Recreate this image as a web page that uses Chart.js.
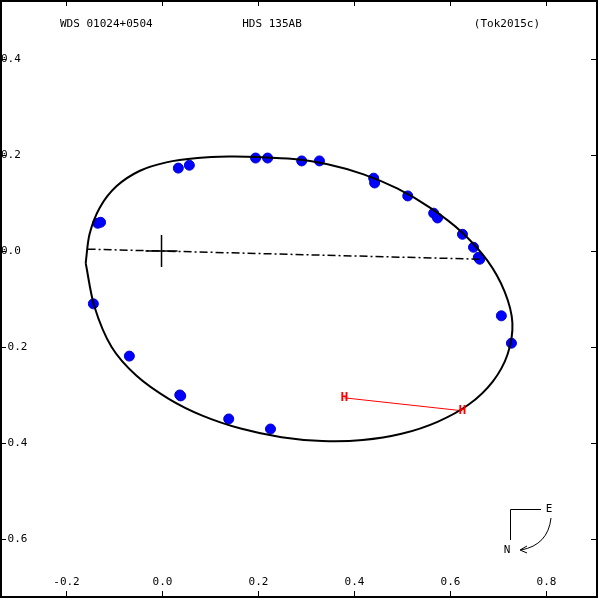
<!DOCTYPE html><html><head><script src="https://cdn.jsdelivr.net/npm/chart.js@4"></script>
<style>body{margin:0;background:#fff}#w{width:600px;height:600px}</style></head><body><div id="w"><canvas id="c"></canvas></div>
<script>
const xTicks=[-0.2,0,0.2,0.4,0.6,0.8];
const xTickLabels=['-0.2','0.0','0.2','0.4','0.6','0.8'];
const yTicks=[0.4,0.2,0,-0.2,-0.4,-0.6];
const yTickLabels=['0.4','0.2','0.0','-0.2','-0.4','-0.6'];
const orbitX=[-0.158,-0.150,-0.129,-0.094,-0.046,0.010,0.075,0.140,0.204,0.275,0.346,0.421,0.492,0.560,0.625,0.679,0.715,0.731,0.721,0.690,0.640,0.575,0.500,0.419,0.335,0.250,0.165,0.085,0.015,-0.052,-0.104,-0.140,-0.158];
const orbitY=[-0.025,0.035,0.090,0.135,0.167,0.185,0.194,0.197,0.196,0.192,0.181,0.160,0.130,0.090,0.040,-0.020,-0.085,-0.150,-0.215,-0.272,-0.320,-0.356,-0.381,-0.394,-0.396,-0.388,-0.370,-0.343,-0.308,-0.260,-0.200,-0.115,-0.025];
const obsX=[0.035,0.058,0.196,0.221,0.292,0.329,0.442,0.444,0.513,0.567,0.575,0.627,0.650,0.660,0.663,-0.133,-0.127,-0.142,-0.067,0.038,0.040,0.140,0.227,0.708,0.729];
const obsY=[0.173,0.179,0.194,0.194,0.188,0.188,0.152,0.142,0.115,0.079,0.069,0.035,0.008,-0.013,-0.017,0.058,0.060,-0.110,-0.219,-0.300,-0.302,-0.350,-0.371,-0.135,-0.192];
const nodeX=[-0.154,0.667];const nodeY=[0.004,-0.017];
const resX=[0.381,0.627];const resY=[-0.306,-0.333];
const P=(xs,ys)=>xs.map((x,i)=>({x,y:ys[i]}));
const deco={id:'deco',afterDraw(ch){const c=ch.ctx,xs=ch.scales.x,ys=ch.scales.y;c.save();
c.strokeStyle='#000';c.lineWidth=2;c.strokeRect(1,1,596,596);c.lineWidth=1;
c.font='11px "DejaVu Sans Mono"';c.fillStyle='#000';
xTicks.forEach((v,i)=>{const p=Math.round(xs.getPixelForValue(v))+.5;c.beginPath();c.moveTo(p,0);c.lineTo(p,6);c.moveTo(p,597);c.lineTo(p,591);c.stroke();c.textAlign='center';c.textBaseline='middle';c.fillText(xTickLabels[i],p,582);});
yTicks.forEach((v,i)=>{const p=Math.round(ys.getPixelForValue(v))+.5;c.beginPath();c.moveTo(0,p);c.lineTo(6,p);c.moveTo(597,p);c.lineTo(591,p);c.stroke();c.textAlign='left';c.textBaseline='middle';c.fillText(yTickLabels[i],1,p);});
c.textBaseline='middle';c.textAlign='left';c.fillText('WDS 01024+0504',60,24);c.textAlign='center';c.fillText('HDS 135AB',272,24);c.textAlign='right';c.fillText('(Tok2015c)',540,24);
const ox=xs.getPixelForValue(0),oy=ys.getPixelForValue(0);c.lineWidth=1.5;c.beginPath();c.moveTo(ox-16,oy);c.lineTo(ox+16,oy);c.moveTo(ox,oy-16);c.lineTo(ox,oy+16);c.stroke();
c.fillStyle='red';c.font='bold 13px "DejaVu Sans Mono"';c.textAlign='center';resX.forEach((x,i)=>c.fillText('H',xs.getPixelForValue(x),ys.getPixelForValue(resY[i])));
c.strokeStyle='#000';c.fillStyle='#000';c.lineWidth=1;c.beginPath();c.moveTo(541,509.5);c.lineTo(510.5,509.5);c.lineTo(510.5,540);c.stroke();
c.font='11px "DejaVu Sans Mono"';c.fillText('E',549,509);c.fillText('N',507,550);
c.beginPath();c.moveTo(551,518);c.quadraticCurveTo(548,545,521,550);c.stroke();
c.beginPath();c.moveTo(520,550);c.lineTo(527,546);c.moveTo(520,550);c.lineTo(527,553);c.stroke();
c.restore();}};
new Chart(document.getElementById('c'),{type:'scatter',data:{datasets:[
{data:P(orbitX,orbitY),showLine:true,borderColor:'#000',borderWidth:2,pointRadius:0,tension:0.3,fill:false},
{data:P(nodeX,nodeY),showLine:true,borderColor:'#000',borderWidth:1.5,borderDash:[8,3,2,3],pointRadius:0},
{data:P(resX,resY),showLine:true,borderColor:'red',borderWidth:1,pointRadius:0},
{data:P(obsX,obsY),pointRadius:5,pointBackgroundColor:'#0000ff',pointBorderColor:'#0000cc',showLine:false}
]},options:{responsive:true,maintainAspectRatio:false,animation:false,layout:{padding:0},
plugins:{legend:{display:false},tooltip:{enabled:false}},
scales:{x:{type:'linear',min:-0.324,max:0.901,display:false},y:{type:'linear',min:-0.715,max:0.511,display:false}}},plugins:[deco]});
</script></body></html>
